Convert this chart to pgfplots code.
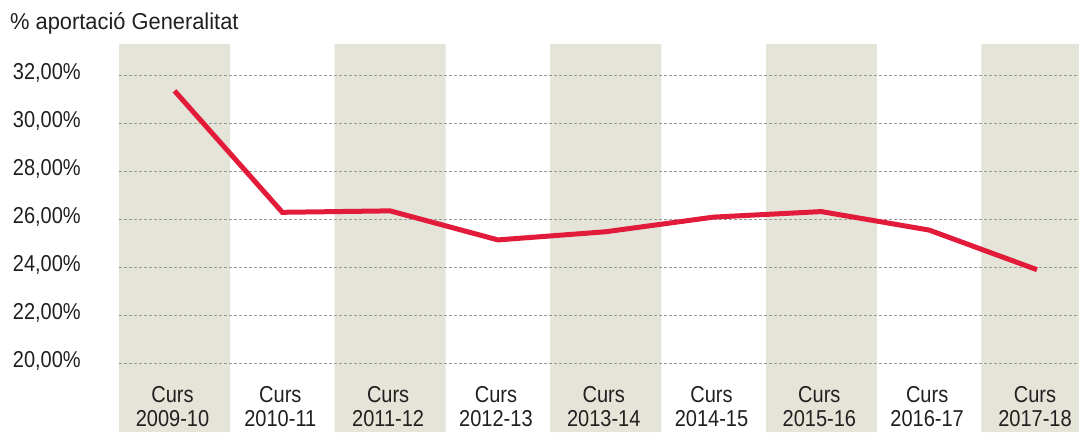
\documentclass[border=0pt]{standalone}
\usepackage{fontspec}
\setmainfont[FakeStretch=0.87]{Liberation Sans}
\newfontfamily\titlefont[FakeStretch=0.95]{Liberation Sans}
\usepackage{pgfplots}
\pgfplotsset{compat=1.18}
\definecolor{band}{HTML}{E4E4D8}
\definecolor{linered}{HTML}{E31B3B}
\definecolor{txt}{HTML}{231F20}
\begin{document}
\begin{tikzpicture}
\begin{axis}[
  set layers,
  scale only axis, width=960pt, height=388pt,
  at={(0pt,0pt)}, anchor=south west,
  xmin=-0.515, xmax=8.39, ymin=17.14, ymax=33.3,
  axis line style={draw=none},
  major tick length=0pt,
  xtick={0,1,2,3,4,5,6,7,8},
  xticklabels={Curs\\2009-10,Curs\\2010-11,Curs\\2011-12,Curs\\2012-13,Curs\\2013-14,Curs\\2014-15,Curs\\2015-16,Curs\\2016-17,Curs\\2017-18},
  xticklabel style={align=center, anchor=south, inner sep=0pt, yshift=5pt, xshift=-2pt, font={\fontsize{23}{24}\selectfont}, text=txt},
  ytick={20,22,24,26,28,30,32},
  yticklabels={20{,}00\%,22{,}00\%,24{,}00\%,26{,}00\%,28{,}00\%,30{,}00\%,32{,}00\%},
  yticklabel style={anchor=east, inner sep=0pt, xshift=-38pt, yshift=2pt, font={\fontsize{23}{24}\selectfont}, text=txt},
  ymajorgrids,
  grid style={dash pattern=on 3pt off 2pt, color=black!40, line width=0.8pt},
]
\addplot[ybar, bar width=1.03, fill=band, draw=none, on layer=axis background]
  coordinates {(0,33.3) (2,33.3) (4,33.3) (6,33.3) (8,33.3)};
\addplot[color=linered, line width=5pt, mark=none]
  coordinates {(0,31.35) (1,26.29) (2,26.35) (3,25.14) (4,25.48) (5,26.09) (6,26.32) (7,25.55) (8,23.9)};
\end{axis}
\node[anchor=base west, inner sep=0pt, font={\titlefont\fontsize{23}{24}\selectfont}, text=txt] at (-109pt,402pt) {\% aportació Generalitat};
\pgfresetboundingbox
\path[use as bounding box] (-119pt,0pt) rectangle (960pt,432pt);
\end{tikzpicture}
\end{document}
